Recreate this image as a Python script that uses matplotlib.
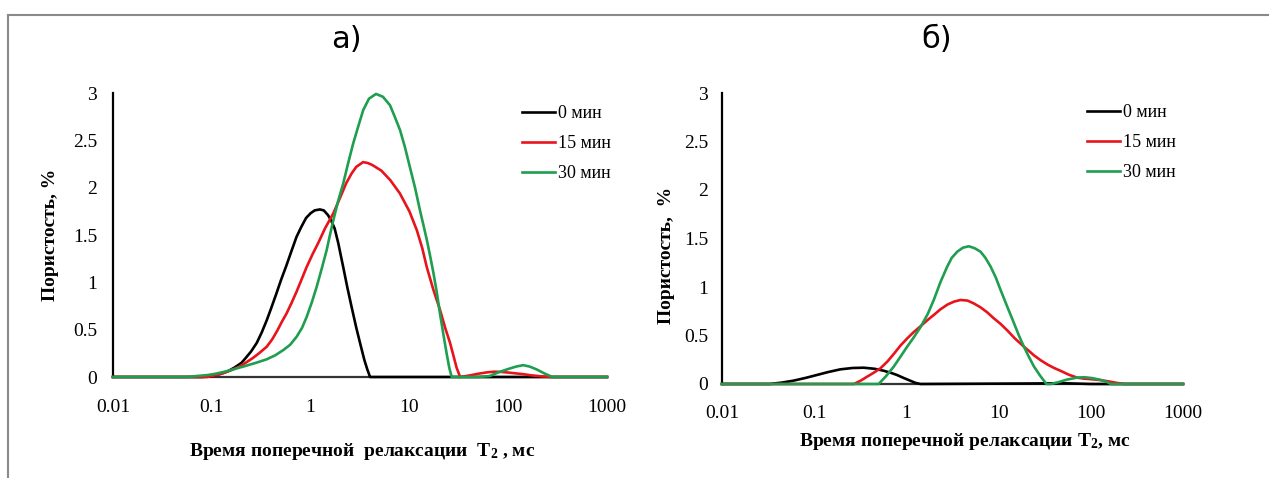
import matplotlib
matplotlib.use("Agg")
import matplotlib.pyplot as plt
from matplotlib.lines import Line2D

plt.rcParams['font.family'] = ['Liberation Serif', 'DejaVu Serif']
plt.rcParams['mathtext.fontset'] = 'custom'
plt.rcParams['mathtext.rm'] = 'Liberation Serif:bold'
plt.rcParams['mathtext.it'] = 'Liberation Serif:bold'

# --- панель а) ---
a_x0 = [0.01, 0.08, 0.1, 0.12, 0.145, 0.17, 0.2, 0.22, 0.25, 0.285, 0.32, 0.36,
        0.4, 0.45, 0.5, 0.57, 0.64, 0.72, 0.8, 0.9, 1.0, 1.1, 1.24, 1.36, 1.5,
        1.62, 1.75, 1.9, 2.14, 2.35, 2.6, 2.9, 3.2, 3.5, 3.75, 4.0, 10, 100, 1000]
a_y0 = [0, 0, 0.01, 0.03, 0.06, 0.1, 0.15, 0.2, 0.27, 0.36, 0.47, 0.6,
        0.73, 0.88, 1.02, 1.18, 1.33, 1.48, 1.58, 1.68, 1.73, 1.76, 1.77, 1.76, 1.71,
        1.65, 1.57, 1.42, 1.16, 0.95, 0.74, 0.52, 0.34, 0.18, 0.08, 0, 0, 0, 0]

a_x15 = [0.01, 0.09, 0.11, 0.13, 0.16, 0.19, 0.22, 0.26, 0.3, 0.36, 0.41, 0.46,
         0.51, 0.57, 0.64, 0.72, 0.81, 0.91, 1.05, 1.2, 1.4, 1.7, 2.0, 2.3, 2.6,
         2.9, 3.4, 3.8, 4.2, 5.2, 6.4, 8.0, 10, 11.9, 13.5, 15, 17.5, 20.4, 23,
         25.8, 28, 30, 32.6, 40, 50, 62, 72, 85, 100, 120, 142, 170, 210, 276, 1000]
a_y15 = [0, 0, 0.02, 0.04, 0.075, 0.11, 0.15, 0.2, 0.25, 0.32, 0.4, 0.49,
         0.58, 0.67, 0.78, 0.9, 1.03, 1.16, 1.3, 1.42, 1.57, 1.73, 1.9, 2.05, 2.15,
         2.22, 2.27, 2.26, 2.24, 2.18, 2.08, 1.94, 1.75, 1.55, 1.36, 1.16, 0.92, 0.71, 0.52,
         0.36, 0.22, 0.1, 0, 0.015, 0.035, 0.05, 0.056, 0.054, 0.047, 0.038, 0.03, 0.018,
         0.008, 0, 0]

a_x30 = [0.01, 0.056, 0.07, 0.09, 0.11, 0.14, 0.17, 0.208, 0.28, 0.36, 0.44, 0.53,
         0.62, 0.723, 0.82, 0.914, 1.03, 1.153, 1.3, 1.455, 1.57, 1.70, 1.9, 2.14,
         2.4, 2.70, 3.0, 3.41, 3.9, 4.59, 5.4, 6.37, 7.1, 8.03, 9.0, 10.1, 11.4, 12.8,
         13.9, 15.0, 16.2, 17.5, 18.9, 20.4, 22, 23.8, 25.3, 26.8, 50, 65, 80, 97,
         120, 142, 165, 194, 230, 280, 1000]
a_y30 = [0, 0, 0.01, 0.02, 0.035, 0.06, 0.085, 0.11, 0.15, 0.187, 0.23, 0.285,
         0.34, 0.426, 0.52, 0.637, 0.79, 0.954, 1.15, 1.341, 1.5, 1.658, 1.86, 2.045,
         2.26, 2.468, 2.63, 2.82, 2.94, 2.99, 2.96, 2.87, 2.75, 2.61, 2.43, 2.22, 2.0, 1.76,
         1.6, 1.45, 1.28, 1.10, 0.9, 0.67, 0.46, 0.25, 0.1, 0, 0, 0.01, 0.05, 0.08,
         0.11, 0.125, 0.11, 0.08, 0.04, 0, 0]

# --- панель б) ---
b_x0 = [0.01, 0.033, 0.045, 0.06, 0.08, 0.107, 0.14, 0.192, 0.26, 0.344, 0.45,
        0.566, 0.68, 0.79, 0.93, 1.1, 1.25, 1.42, 20, 50, 100, 1000]
b_y0 = [0, 0, 0.015, 0.035, 0.062, 0.093, 0.122, 0.151, 0.165, 0.168, 0.157,
        0.137, 0.115, 0.093, 0.063, 0.034, 0.012, 0, 0.005, 0.008, 0, 0]

b_x15 = [0.01, 0.27, 0.32, 0.374, 0.44, 0.52, 0.62, 0.73, 0.86, 1.02, 1.2, 1.42,
         1.7, 2.0, 2.34, 2.8, 3.3, 3.86, 4.6, 5.4, 6.37, 7.5, 8.8, 10.5, 12.5, 15,
         18.8, 22, 24.2, 28.6, 34, 40, 47.2, 58, 71.6, 85, 100, 128, 160, 195, 230, 1000]
b_y15 = [0, 0, 0.035, 0.075, 0.115, 0.16, 0.23, 0.31, 0.395, 0.47, 0.535, 0.595,
         0.66, 0.715, 0.77, 0.82, 0.85, 0.866, 0.86, 0.83, 0.79, 0.74, 0.68, 0.62, 0.55, 0.47,
         0.385, 0.33, 0.295, 0.245, 0.2, 0.165, 0.135, 0.095, 0.065, 0.055, 0.05, 0.04, 0.025,
         0.01, 0, 0]

b_x30 = [0.01, 0.5, 0.6, 0.73, 0.86, 1.02, 1.2, 1.42, 1.7, 1.98, 2.34, 2.77, 3.1,
         3.56, 4.1, 4.75, 5.5, 6.37, 7.2, 8.19, 9.3, 10.5, 12.5, 14.7, 16.6, 18.8,
         21.3, 24.2, 28, 33, 37, 45, 55, 70, 85, 105, 130, 150, 165, 1000]
b_y30 = [0, 0, 0.08, 0.18, 0.28, 0.385, 0.48, 0.585, 0.72, 0.866, 1.05, 1.21, 1.3,
         1.364, 1.405, 1.42, 1.40, 1.364, 1.3, 1.21, 1.1, 0.97, 0.79, 0.626, 0.5, 0.385,
         0.28, 0.18, 0.09, 0, 0, 0.02, 0.045, 0.065, 0.07, 0.06, 0.04, 0.02, 0, 0]

labels = ['0 мин', '15 мин', '30 мин']
colors = ['black', '#e8141c', '#1f9e4f']
x_ticks = [0.01, 0.1, 1, 10, 100, 1000]
x_tick_labels = ['0.01', '0.1', '1', '10', '100', '1000']
y_ticks = [0, 0.5, 1, 1.5, 2, 2.5, 3]
y_tick_labels = ['0', '0.5', '1', '1.5', '2', '2.5', '3']

fig = plt.figure(figsize=(12.69, 4.78), dpi=100)
W, H = 1269, 478

ax1 = fig.add_axes([113 / W, (H - 377) / H, 494 / W, 284 / H])
ax2 = fig.add_axes([722 / W, (H - 384) / H, 461 / W, 291 / H])

panels = [
    (ax1, [(a_x0, a_y0), (a_x15, a_y15), (a_x30, a_y30)], 11.5, 16),
    (ax2, [(b_x0, b_y0), (b_x15, b_y15), (b_x30, b_y30)], 10, 15),
]

for ax, series, ypad, xpad in panels:
    for (xs, ys), lab, c in zip(series, labels, colors):
        ax.plot(xs, ys, color=c, lw=1.9, label=lab, zorder=3, clip_on=False,
                solid_joinstyle='round')
    ax.set_xscale('log')
    ax.set_xlim(0.01, 1000)
    ax.set_ylim(0, 3)
    ax.set_xticks(x_ticks)
    ax.set_xticklabels(x_tick_labels)
    ax.minorticks_off()
    ax.set_yticks(y_ticks)
    ax.set_yticklabels(y_tick_labels)
    ax.tick_params(axis='both', length=0, labelsize=14)
    ax.tick_params(axis='y', pad=ypad)
    ax.tick_params(axis='x', pad=xpad)
    for s in ['top', 'right']:
        ax.spines[s].set_visible(False)
    ax.spines['left'].set_linewidth(1.6)
    ax.spines['bottom'].set_linewidth(1.6)
    ax.spines['bottom'].set_color('#333333')

ax1.set_ylabel('Пористость, %', fontsize=14, fontweight='bold')
ax1.yaxis.set_label_coords(-0.11, 0.5)
ax1.set_xlabel('Время поперечной  релаксации  $\\mathrm{T_2}$ , мс', fontsize=14,
               fontweight='bold')
ax1.xaxis.set_label_coords(0.504, -0.225)

ax2.set_ylabel('Пористость,  %', fontsize=14, fontweight='bold')
ax2.yaxis.set_label_coords(-0.102, 0.443)
ax2.set_xlabel('Время поперечной релаксации $\\mathrm{T_2}$, мс', fontsize=14,
               fontweight='bold')
ax2.xaxis.set_label_coords(0.527, -0.162)

legend_kw = dict(frameon=False, loc='upper left', fontsize=13, handlelength=1.85,
                 handletextpad=0.15, labelspacing=0.72, borderpad=0, borderaxespad=0)
ax1.legend(bbox_to_anchor=(521.7 / W, (H - 105) / H), bbox_transform=fig.transFigure,
           **legend_kw)
ax2.legend(bbox_to_anchor=(1086.7 / W, (H - 104) / H), bbox_transform=fig.transFigure,
           **legend_kw)

title_font = ['Liberation Sans Narrow', 'DejaVu Sans']
fig.text(346 / W, 1 - 40 / H, 'а)', fontsize=22, family=title_font, ha='center', va='center')
fig.text(937 / W, 1 - 40 / H, 'б)', fontsize=22, family=title_font, ha='center', va='center')

# рамка
fig.add_artist(Line2D([8 / W, 1], [1 - 15 / H, 1 - 15 / H], color='#8a8a8a', lw=1.5,
                      transform=fig.transFigure))
fig.add_artist(Line2D([8 / W, 8 / W], [1 - 15 / H, 0], color='#8a8a8a', lw=1.5,
                      transform=fig.transFigure))

fig.savefig('out.png', dpi=100)
